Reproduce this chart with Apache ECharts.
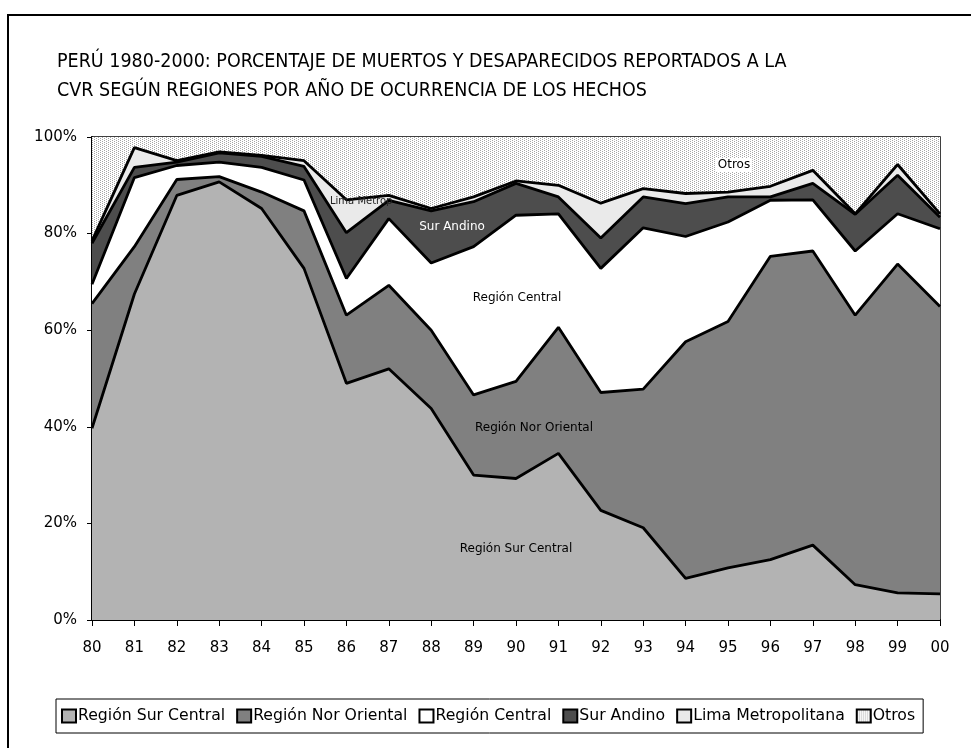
<!DOCTYPE html>
<html>
<head>
<meta charset="utf-8">
<title>Perú 1980-2000</title>
<script src="https://cdn.jsdelivr.net/npm/echarts@6/dist/echarts.min.js"></script>
<style>
  html, body { margin: 0; padding: 0; background: #fff; }
  #main { width: 971px; height: 748px; }
</style>
</head>
<body>
<div id="main"></div>
<script>
  // 年份
  const years = ['80', '81', '82', '83', '84', '85', '86', '87', '88', '89', '90',
    '91', '92', '93', '94', '95', '96', '97', '98', '99', '00']
  // 各区域占比 (%)
  const surCentral = [39.7, 67.5, 87.9, 90.7, 85.2, 72.8, 49.0, 52.0, 43.8, 30.0, 29.3,
    34.5, 22.7, 19.1, 8.6, 10.8, 12.5, 15.5, 7.3, 5.6, 5.4]
  const norOriental = [25.8, 9.8, 3.3, 1.1, 3.4, 11.9, 14.1, 17.3, 16.2, 16.6, 20.1,
    26.1, 24.4, 28.7, 49.0, 51.0, 62.8, 60.9, 55.8, 68.1, 59.5]
  const regionCentral = [4.0, 14.3, 2.9, 3.0, 5.1, 6.4, 7.6, 13.8, 13.9, 30.7, 34.4,
    23.5, 25.7, 33.4, 21.8, 20.6, 11.6, 10.6, 13.3, 10.4, 16.1]
  const surAndino = [8.5, 2.1, 0.7, 1.9, 2.3, 2.8, 9.5, 3.8, 10.8, 9.3, 6.6,
    3.5, 6.3, 6.4, 6.8, 5.2, 0.7, 3.4, 7.6, 8.0, 2.4]
  const limaMetro = [0.5, 4.1, 0.3, 0.2, 0.2, 1.2, 6.8, 1.0, 0.5, 1.0, 0.5,
    2.4, 7.2, 1.7, 2.1, 1.0, 2.2, 2.7, 0.1, 2.2, 0.7]
  const otros = [21.5, 2.2, 4.9, 3.1, 3.8, 4.9, 13.0, 12.1, 14.8, 12.4, 9.1,
    10.0, 13.7, 10.7, 11.7, 11.4, 10.2, 6.9, 15.9, 5.7, 15.9]
  const seriesNames = ['Región Sur Central', 'Región Nor Oriental', 'Región Central',
    'Sur Andino', 'Lima Metropolitana', 'Otros']

  // "Otros" 的点状填充
  let dots = document.createElement('canvas')
  dots.width = 4
  dots.height = 2
  let dctx = dots.getContext('2d')
  dctx.fillStyle = '#ffffff'
  dctx.fillRect(0, 0, 4, 2)
  dctx.fillStyle = '#a6a6a6'
  dctx.fillRect(0, 0, 1, 1)
  dctx.fillRect(2, 1, 1, 1)
  const dotFill = { image: dots, repeat: 'repeat' }

  const fills = ['#b3b3b3', '#808080', '#ffffff', '#4d4d4d', '#eaeaea', dotFill]
  const values = [surCentral, norOriental, regionCentral, surAndino, limaMetro, otros]

  const font = 'DejaVu Sans'

  function makeSeries(i) {
    return {
      name: seriesNames[i],
      type: 'line',
      stack: 'total',
      data: values[i],
      symbol: 'none',
      silent: true,
      lineStyle: { color: '#000', width: i === 5 ? 0 : 2.8 },
      areaStyle: { color: fills[i], opacity: 1 },
      itemStyle: { color: fills[i] },
      emphasis: { disabled: true }
    }
  }

  let myChart = echarts.init(document.getElementById('main'))
  myChart.setOption({
    animation: false,
    title: {
      text: 'PERÚ 1980-2000: PORCENTAJE DE MUERTOS Y DESAPARECIDOS REPORTADOS A LA\nCVR SEGÚN REGIONES POR AÑO DE OCURRENCIA DE LOS HECHOS',
      left: 52,
      top: 42,
      textStyle: {
        fontFamily: "'Liberation Sans Narrow', 'DejaVu Sans Condensed', 'Liberation Sans', sans-serif",
        fontSize: 19.5,
        fontWeight: 'normal',
        color: '#000',
        lineHeight: 29
      }
    },
    legend: {
      left: 56,
      top: 699,
      padding: [9, 8, 9, 5],
      itemGap: 11,
      itemWidth: 14,
      itemHeight: 13,
      icon: 'rect',
      borderColor: '#000',
      borderWidth: 1,
      backgroundColor: '#fff',
      selectedMode: false,
      itemStyle: { borderColor: '#000', borderWidth: 2 },
      textStyle: { fontFamily: font, fontSize: 15.7, color: '#000', padding: [0, 0, 0, -3] },
      data: seriesNames.map((n, i) => ({ name: n, itemStyle: { color: fills[i] } }))
    },
    grid: {
      left: 92,
      top: 137,
      right: 31,
      bottom: 128,
      show: true,
      borderColor: '#000',
      borderWidth: 1.5,
      backgroundColor: 'transparent'
    },
    xAxis: {
      type: 'category',
      boundaryGap: false,
      data: years,
      axisLine: { lineStyle: { color: '#000', width: 2 } },
      axisTick: { show: true, interval: 0, length: 6, lineStyle: { color: '#000', width: 1 } },
      axisLabel: { interval: 0, margin: 21, fontFamily: font, fontSize: 15, color: '#000' },
      splitLine: { show: false }
    },
    yAxis: {
      type: 'value',
      min: 0,
      max: 100,
      interval: 20,
      axisLine: { show: true, lineStyle: { color: '#000', width: 2 } },
      axisTick: { show: true, length: 5, lineStyle: { color: '#000', width: 1 } },
      axisLabel: { formatter: '{value}%', margin: 15, fontFamily: font, fontSize: 15, color: '#000' },
      splitLine: { show: false }
    },
    series: [0, 1, 2, 3, 4, 5].map(makeSeries),
    graphic: [
      {
        type: 'rect',
        silent: true,
        shape: { x: 8, y: 15, width: 1000, height: 800 },
        style: { fill: 'none', stroke: '#000', lineWidth: 2 }
      },
      {
        type: 'text', x: 734, y: 165, z: 100,
        style: { text: 'Otros', font: '12px ' + font, fill: '#000', align: 'center', verticalAlign: 'middle', backgroundColor: '#fff', padding: [1, 2] }
      },
      {
        type: 'text', x: 330, y: 201, z: 100,
        style: { text: 'Lima Metrop', font: '10px ' + font, fill: '#222', align: 'left', verticalAlign: 'middle' }
      },
      {
        type: 'text', x: 452, y: 227, z: 100,
        style: { text: 'Sur Andino', font: '12px ' + font, fill: '#fff', align: 'center', verticalAlign: 'middle' }
      },
      {
        type: 'text', x: 517, y: 298, z: 100,
        style: { text: 'Región Central', font: '12px ' + font, fill: '#000', align: 'center', verticalAlign: 'middle' }
      },
      {
        type: 'text', x: 534, y: 428, z: 100,
        style: { text: 'Región Nor Oriental', font: '12px ' + font, fill: '#000', align: 'center', verticalAlign: 'middle' }
      },
      {
        type: 'text', x: 516, y: 549, z: 100,
        style: { text: 'Región Sur Central', font: '12px ' + font, fill: '#000', align: 'center', verticalAlign: 'middle' }
      }
    ]
  })
</script>
</body>
</html>
